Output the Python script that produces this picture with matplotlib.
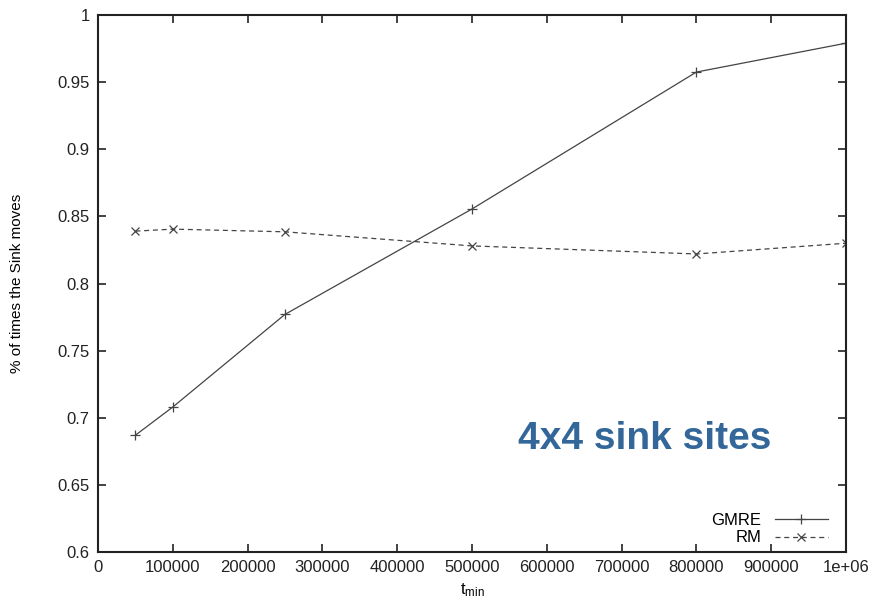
import matplotlib
matplotlib.use("Agg")
import matplotlib.pyplot as plt

t_min = [50000, 100000, 250000, 500000, 800000, 1000000]
gmre = [0.687, 0.708, 0.777, 0.8555, 0.9575, 0.979]
rm = [0.839, 0.8405, 0.8385, 0.828, 0.822, 0.830]
xticks = [0, 100000, 200000, 300000, 400000, 500000, 600000, 700000, 800000, 900000, 1000000]
xticklabels = ["0", "100000", "200000", "300000", "400000", "500000", "600000", "700000", "800000", "900000", "1e+06"]
yticks = [0.6, 0.65, 0.7, 0.75, 0.8, 0.85, 0.9, 0.95, 1.0]
yticklabels = ["0.6", "0.65", "0.7", "0.75", "0.8", "0.85", "0.9", "0.95", "1"]

plt.rcParams['font.family'] = ['Liberation Sans', 'DejaVu Sans']

fig = plt.figure(figsize=(8.73, 6.07), dpi=100)
ax = fig.add_axes([98/873, 1-552/607, (846-98)/873, (552-15)/607])

ax.plot(t_min, gmre, color='#444444', lw=0.9, marker='+', ms=7, mew=0.9, label='GMRE')
ax.plot(t_min, rm, color='#444444', lw=0.9, ls=(0, (4, 3)), marker='x', ms=6, mew=0.9, label='RM')

ax.set_xlim(0, 1000000)
ax.set_ylim(0.6, 1.0)
ax.set_xticks(xticks)
ax.set_xticklabels(xticklabels)
ax.set_yticks(yticks)
ax.set_yticklabels(yticklabels)
ax.tick_params(direction='in', length=6, width=1.2, top=True, right=True,
               labelsize=12, labelcolor='#222222', pad=6, color='#222222')
for s in ax.spines.values():
    s.set_linewidth(1.5)
    s.set_color('#222222')

ax.set_xlabel(r'$\mathregular{t_{min}}$', fontsize=12, labelpad=4)
ax.set_ylabel('% of times the Sink moves', fontsize=11, labelpad=24)

leg = ax.legend(loc='lower right', frameon=False, markerfirst=False, fontsize=12,
                handlelength=3.2, borderaxespad=0.0, labelspacing=0.15,
                bbox_to_anchor=(0.985, 0.0))

ax.text(731000, 0.684, '4x4 sink sites', fontsize=28, fontweight='bold', color='#336699',
        ha='center', va='center')

fig.savefig('out.png', dpi=100)
